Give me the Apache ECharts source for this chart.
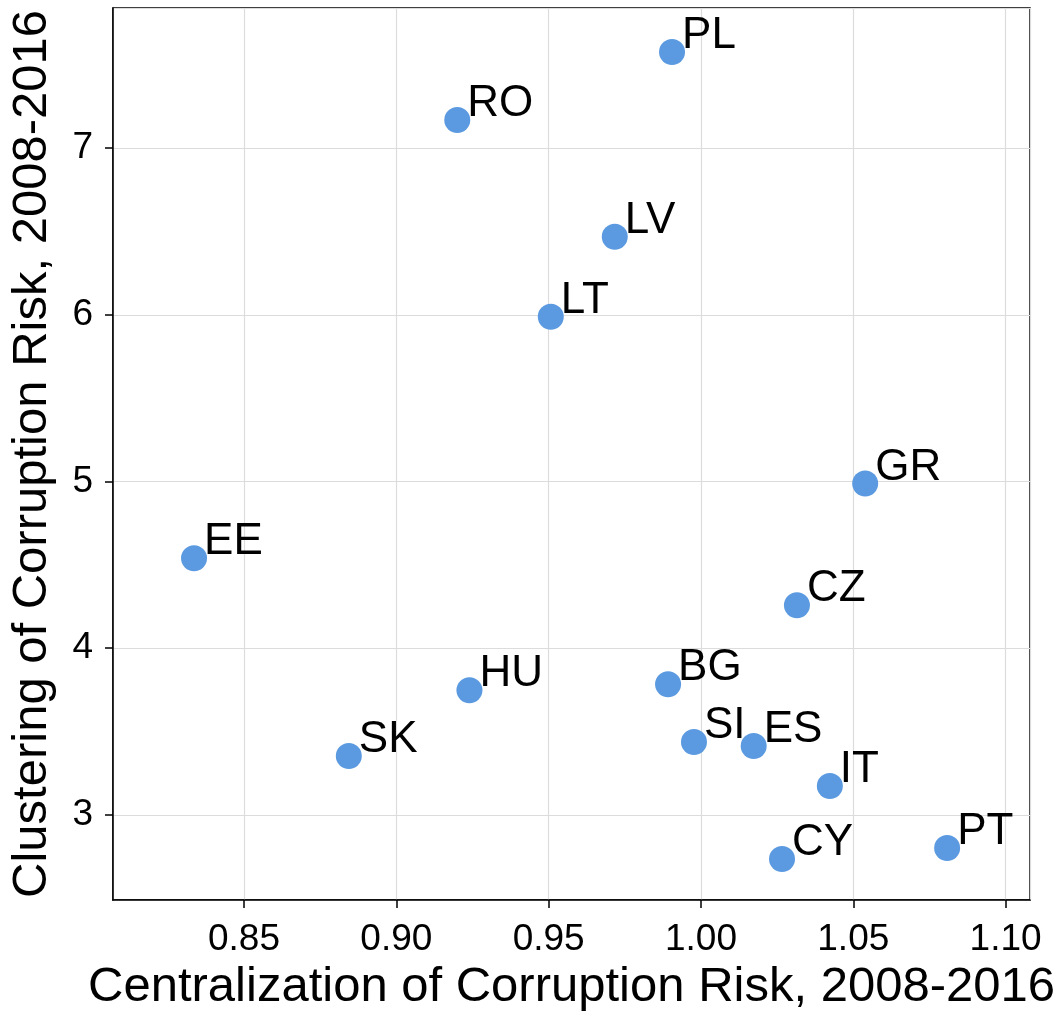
<!DOCTYPE html>
<html>
<head>
<meta charset="utf-8">
<script src="https://cdn.jsdelivr.net/npm/echarts@6/dist/echarts.min.js"></script>
<style>
  html, body { margin: 0; padding: 0; background: #fff; }
  #main { width: 1060px; height: 1015px; }
</style>
</head>
<body>
<div id="main"></div>
<script>
// country codes and their two risk measures
var countries = ['PL', 'RO', 'LV', 'LT', 'GR', 'EE', 'CZ', 'HU', 'BG', 'SK', 'SI', 'ES', 'IT', 'CY', 'PT'];
var centralization = [0.9905, 0.920, 0.9717, 0.9507, 1.0539, 0.8336, 1.0315, 0.924, 0.9892, 0.8844, 0.9977, 1.0173, 1.0423, 1.0266, 1.0808];
var clustering = [7.576, 7.168, 6.468, 5.988, 4.988, 4.54, 4.258, 3.748, 3.784, 3.354, 3.438, 3.414, 3.174, 2.736, 2.802];

var chart = echarts.init(document.getElementById('main'));

var points = [];
for (var i = 0; i < countries.length; i++) {
	points.push({ name: countries[i], value: [centralization[i], clustering[i]] });
}

var fontFam = '"Liberation Sans", Arial, sans-serif';

var option = {
	animation: false,
	textStyle: { fontFamily: fontFam },
	grid: {
		left: 113, right: 30, top: 8, bottom: 115,
		outerBoundsMode: 'none',
		show: true, borderColor: '#000', borderWidth: 1.5
	},
	xAxis: {
		type: 'value',
		min: 0.807, max: 1.108,
		name: 'Centralization of Corruption Risk, 2008-2016',
		nameLocation: 'middle',
		nameGap: 62,
		nameTextStyle: { fontSize: 49, color: '#000', fontFamily: fontFam },
		axisLine: { show: true, lineStyle: { color: '#000', width: 1.5 } },
		axisTick: { show: true, length: 8, lineStyle: { color: '#000', width: 1.5 } },
		axisLabel: {
			fontSize: 37, color: '#000', margin: 21, showMinLabel: false, showMaxLabel: false,
			formatter: function (v) { return v.toFixed(2); }
		},
		splitLine: { show: true, lineStyle: { color: '#dcdcdc', width: 1.2 } }
	},
	yAxis: {
		type: 'value',
		min: 2.49, max: 7.84,
		name: 'Clustering of Corruption Risk, 2008-2016',
		nameLocation: 'middle',
		nameGap: 56,
		nameTextStyle: { fontSize: 49, color: '#000', fontFamily: fontFam },
		axisLine: { show: true, lineStyle: { color: '#000', width: 1.5 } },
		axisTick: { show: true, length: 8, lineStyle: { color: '#000', width: 1.5 } },
		axisLabel: {
			fontSize: 37, color: '#000', margin: 20, showMinLabel: false, showMaxLabel: false
		},
		splitLine: { show: true, lineStyle: { color: '#dcdcdc', width: 1.2 } }
	},
	series: [{
		type: 'scatter',
		data: points,
		symbolSize: 26,
		itemStyle: { color: '#5b9ae0', opacity: 1 },
		label: {
			show: true,
			position: 'right',
			distance: 0,
			offset: [-3, -16],
			formatter: '{b}',
			fontSize: 44,
			color: '#000',
			fontFamily: fontFam
		}
	}]
};

chart.setOption(option);
</script>
</body>
</html>
